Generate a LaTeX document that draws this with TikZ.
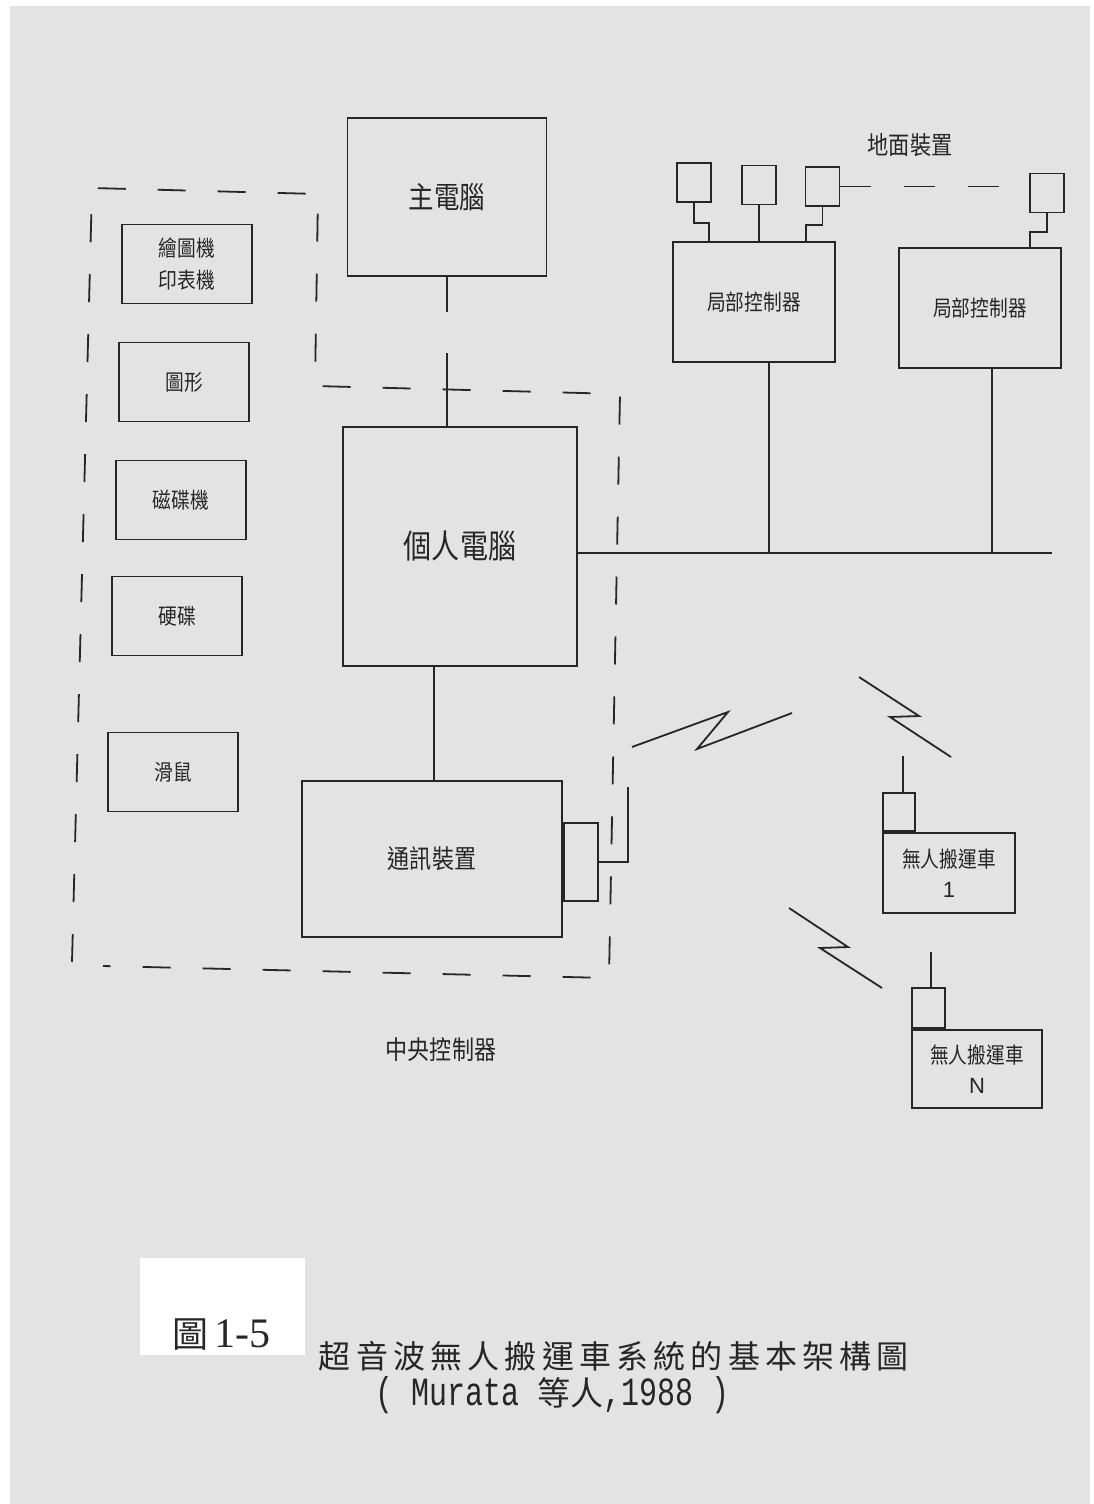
\documentclass[tikz,border=0pt]{standalone}
\usepackage{fontspec}
\setmainfont{Liberation Sans}
\newfontfamily\cjk[FakeStretch=0.85]{Noto Sans CJK TC}
\newfontfamily\cjkplain{Noto Sans CJK TC}
\newfontfamily\capmono[FakeStretch=0.75]{Liberation Mono}
\newfontfamily\capserif{Liberation Serif}
\definecolor{paper}{HTML}{E3E3E3}
\definecolor{ink}{HTML}{262626}
\def\spc#1{\ifx\relax#1\else#1\hskip2.6pt\expandafter\spc\fi}
\begin{document}
\begin{tikzpicture}[x=0.5pt,y=-0.5pt,line width=0.9pt,draw=ink,text=ink,
  box/.style={draw,inner sep=0pt,align=center},
  small/.style={box,minimum width=65pt,minimum height=39.5pt,font=\cjk\fontsize{11}{16}\selectfont},
  gbox/.style={draw,inner sep=0pt,minimum width=17pt,minimum height=19.5pt},
  lc/.style={box,minimum width=81pt,minimum height=60pt,font=\cjk\fontsize{11}{14}\selectfont},
  agv/.style={box,font=\cjk\fontsize{11}{15}\selectfont},
  lab/.style={inner sep=0pt,font=\cjk\fontsize{12.5}{15}\selectfont},
  bound/.style={dash pattern=on 14pt off 16pt},
  gdash/.style={dash pattern=on 15.5pt off 16.5pt}]
\fill[white] (0,0) rectangle (1093,1504);
\fill[paper] (10,6) rectangle (1090,1504);
\useasboundingbox (0,0) rectangle (1093,1504);

% central computers
\node[box,minimum width=99.5pt,minimum height=79pt,font=\cjk\fontsize{15}{18}\selectfont] (main) at (447,197) {主電腦};
\node[box,minimum width=117pt,minimum height=119.5pt,font=\cjk\fontsize{16.5}{20}\selectfont] (pc) at (460,546.5) {個人電腦};
\node[box,minimum width=130pt,minimum height=78pt,font=\cjk\fontsize{13}{16}\selectfont] (comm) at (432,859) {通訊裝置};
\node[box,minimum width=17pt,minimum height=39pt,anchor=west] (commsmall) at (comm.east |- 0,862) {};

% peripherals
\node[small] (plot) at (187,264) {繪圖機\\印表機};
\node[small] (graph) at (184,382) {圖形};
\node[small] (disk) at (181,500) {磁碟機};
\node[small] (hdd) at (177,616) {硬碟};
\node[small] (mouse) at (173,772) {滑鼠};

% central controller boundary
\draw[bound] (72,962) -- (92,188) -- (318,194) -- (315,386) -- (620,394) -- (609,978) -- (103,966);
\node[lab,font=\cjk\fontsize{13}{16}\selectfont] (cc) at (441,1050) {中央控制器};

% main - pc - comm
\coordinate (m1) at (447,312);
\coordinate (m2) at (447,353);
\draw (main.south) -- (m1);
\draw (m2) -- (pc.north -| m2);
\draw (pc.south -| 434,0) -- (comm.north -| 434,0);
\coordinate (commant) at (628,787);
\draw (commsmall.east) -- (commant |- commsmall.east) -- (commant);

% ground devices
\node[lab] (ground) at (910,145) {地面裝置};
\node[lc] (lc1) at (754,302) {局部控制器};
\node[lc] (lc2) at (980,308) {局部控制器};
\node[gbox] (g1) at (694,182.5) {};
\node[gbox] (g2) at (759,185) {};
\node[gbox] (g3) at (822.5,186.5) {};
\node[gbox] (g4) at (1047,193) {};
\draw (g1.south) -- (694,223) -- (709,223) -- (lc1.north -| 709,0);
\draw (g2.south) -- (lc1.north -| g2.south);
\draw (g3.south) -- (822.5,225) -- (806,225) -- (lc1.north -| 806,0);
\draw (g4.south) -- (1047,232) -- (1030,232) -- (lc2.north -| 1030,0);
\draw[gdash] (g3.east) -- (g4.west |- g3.east);

% bus
\coordinate (busend) at (1052,553);
\draw (busend -| pc.east) -- (busend);
\draw (lc1.south -| 769,0) -- (busend -| 769,0);
\draw (lc2.south -| 992,0) -- (busend -| 992,0);

% wireless links
\draw (632,747) -- (728,712) -- (697,749) -- (792,713);
\draw (859,677) -- (919,716) -- (890,717) -- (951,757);
\draw (789,908) -- (848,947) -- (820,948) -- (882,988);

% AGVs
\node[agv,minimum width=66pt,minimum height=40pt] (agv1) at (949,873) {無人搬運車\\{\rmfamily 1}};
\node[box,minimum width=16pt,minimum height=19pt,anchor=south west] (ant1) at (agv1.north west) {};
\coordinate (a1) at (903,756);
\draw (a1) -- (ant1.north -| a1);
\node[agv,minimum width=65pt,minimum height=39pt] (agvn) at (977,1069) {無人搬運車\\{\rmfamily N}};
\node[box,minimum width=16.5pt,minimum height=20pt,anchor=south west] (antn) at (agvn.north west) {};
\coordinate (an) at (931,952);
\draw (an) -- (antn.north -| an);

% caption
\fill[white] (140,1258) rectangle (305,1355);
\node[inner sep=0pt,anchor=base west] (fig) at (172,1347) {{\cjkplain\fontsize{18}{20}\selectfont 圖}\hspace{3pt}{\capserif\fontsize{21}{24}\selectfont 1-5}};
\node[inner sep=0pt,anchor=west,font=\cjkplain\fontsize{16}{18}\selectfont] (cap1) at (318,1356) {\spc 超音波無人搬運車系統的基本架構圖\relax};
\node[inner sep=0pt,anchor=west] (cap2) at (375,1395) {{\capmono\fontsize{20}{22}\selectfont ( Murata }{\cjkplain\fontsize{16.5}{20}\selectfont 等人}{\capmono\fontsize{20}{22}\selectfont ,1988 )}};
\end{tikzpicture}
\end{document}
